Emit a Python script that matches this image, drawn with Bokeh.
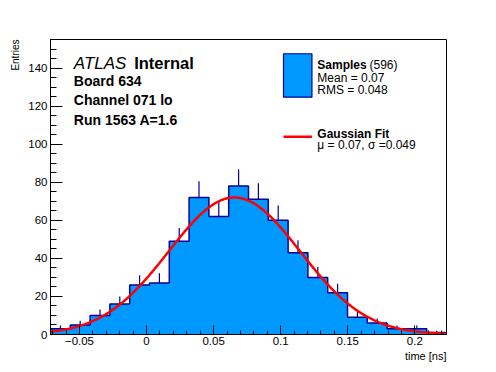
import numpy as np
from bokeh.plotting import figure
from bokeh.models import FixedTicker, Label, BoxAnnotation, Title, Range1d
from bokeh.embed import file_html
from bokeh.resources import INLINE

# ---- data ----
x_min = -0.0716
x_max = 0.2236
counts = [3, 5, 10, 16, 26, 27, 49, 72, 62, 78, 71, 60, 43, 30, 22, 9, 6, 3, 3, 1]
fit_amp = 72.0
fit_mu = 0.0655
fit_sigma = 0.049
n_entries = 596
mean_text = "0.07"
rms_text = "0.048"
x_ticks = [-0.05, 0, 0.05, 0.1, 0.15, 0.2]
x_tick_labels = ["\u22120.05", "0", "0.05", "0.1", "0.15", "0.2"]
y_ticks = [0, 20, 40, 60, 80, 100, 120, 140]
y_tick_labels = ["0", "20", "40", "60", "80", "100", "120", "140"]

FILL = "#0099ff"
EDGE = "#000099"
FONT = "Liberation Sans"

counts_a = np.array(counts, dtype=float)
edges = np.linspace(x_min, x_max, len(counts) + 1)
centers = 0.5 * (edges[:-1] + edges[1:])

p = figure(width=496, height=372, x_range=Range1d(x_min, x_max), y_range=Range1d(0, 155),
           output_backend="svg", toolbar_location=None,
           min_border_left=50, min_border_right=50, min_border_top=39, min_border_bottom=38)
p.background_fill_color = "white"
p.border_fill_color = "white"
p.grid.visible = False
p.outline_line_color = "black"
p.outline_line_width = 1
p.outline_line_alpha = 1

# histogram fill (single polygon, no seams)
p.varea_step(x=edges, y1=np.zeros(len(edges)), y2=np.append(counts_a, counts_a[-1]),
             step_mode="after", fill_color=FILL, fill_alpha=1)

# step outline
sx = np.repeat(edges, 2)
sy = np.concatenate([[0], np.repeat(counts_a, 2), [0]])
p.line(sx, sy, line_color=EDGE, line_width=1.5)

# error bars (upper half visible)
p.segment(x0=centers, y0=counts_a, x1=centers, y1=counts_a + np.sqrt(counts_a),
          line_color=EDGE, line_width=1.2)

# gaussian fit
gx = np.linspace(x_min, x_max, 400)
gy = fit_amp * np.exp(-0.5 * ((gx - fit_mu) / fit_sigma) ** 2)
p.line(gx, gy, line_color="red", line_width=2.5)

# axes
minor_x = [round(v, 3) for v in np.arange(-7, 23) / 100.0]
p.xaxis.ticker = FixedTicker(ticks=x_ticks, minor_ticks=minor_x)
p.xaxis.major_label_overrides = dict(zip(x_ticks, x_tick_labels))
p.yaxis.ticker = FixedTicker(ticks=y_ticks, minor_ticks=list(range(0, 156, 5)))
p.yaxis.major_label_overrides = dict(zip(y_ticks, y_tick_labels))
for ax in (p.xaxis, p.yaxis):
    ax.axis_line_color = "black"
    ax.major_tick_line_color = "black"
    ax.minor_tick_line_color = "black"
    ax.major_tick_out = 0
    ax.minor_tick_out = 0
    ax.major_label_text_font = FONT
    ax.major_label_text_font_size = "11.5px"
    ax.major_label_text_color = "black"
p.xaxis.major_tick_in = 9
p.xaxis.minor_tick_in = 4
p.yaxis.major_tick_in = 12
p.yaxis.minor_tick_in = 6
p.xaxis.major_label_standoff = 2
p.yaxis.major_label_standoff = 3

p.add_layout(Title(text="time [ns]", align="right", text_font=FONT, text_font_size="11px",
                   text_font_style="normal", text_color="black", standoff=0, offset=0), "below")
p.add_layout(Title(text="Entries", align="right", text_font=FONT, text_font_size="10px",
                   text_font_style="normal", text_color="black", standoff=9, offset=0), "left")

def lab(x, y, text, size, style="normal"):
    p.add_layout(Label(x=x, y=y, text=text, text_font=FONT, text_font_size=size,
                       text_font_style=style, text_color="black", text_baseline="alphabetic"))

lab(-0.0542, 142.6, "ATLAS", "17px", "italic")
lab(-0.0092, 142.6, "Internal", "16.5px", "bold")
lab(-0.0542, 133.1, "Board 634", "14px", "bold")
lab(-0.0542, 123.3, "Channel 071 lo", "14px", "bold")
lab(-0.0542, 112.5, "Run 1563 A=1.6", "14px", "bold")

# legend
p.add_layout(BoxAnnotation(left=0.1021, right=0.1233, top=147.5, bottom=124.7,
                           fill_color=FILL, fill_alpha=1, line_color=EDGE, line_width=1.2,
                           line_alpha=1))
p.add_layout(BoxAnnotation(left=0.1021, right=0.1233, top=104.6, bottom=103.3,
                           fill_color="red", fill_alpha=1, line_color=None))
lab(0.1273, 141.7, "Samples", "12px", "bold")
lab(0.1662, 141.7, "(%d)" % n_entries, "12px")
lab(0.1273, 134.7, "Mean = " + mean_text, "12px")
lab(0.1273, 128.7, "RMS = " + rms_text, "12px")
lab(0.1273, 105.4, "Gaussian Fit", "12px", "bold")
lab(0.1273, 99.7, "\u03bc = %.2f, \u03c3 =%.3f" % (0.07, fit_sigma), "12px")

open("out.html", "w").write(file_html(p, INLINE))
